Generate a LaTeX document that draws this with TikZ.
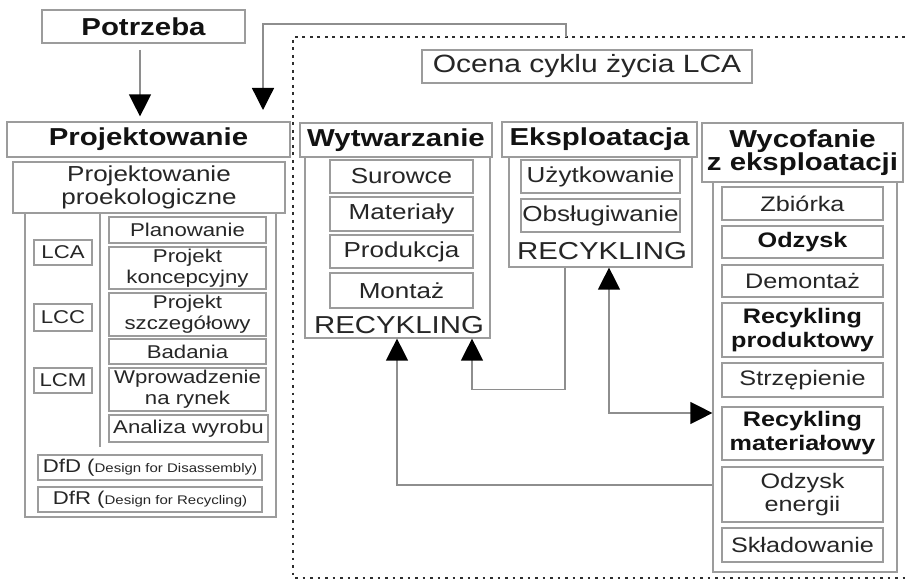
\documentclass[tikz,border=0pt]{standalone}
\usepackage{fontspec}
\setmainfont{Liberation Sans}[FakeStretch=1.2]
\usetikzlibrary{arrows.meta}

\definecolor{edge}{HTML}{9C9C9C}
\definecolor{ink}{HTML}{262626}
\definecolor{inkb}{HTML}{121212}
\definecolor{wire}{HTML}{8E8E8E}
\definecolor{dots}{HTML}{2E2E2E}

\tikzset{
  box/.style={draw=edge, line width=1.2pt, fill=white, inner sep=0pt, align=center, text=ink},
  frame/.style={draw=edge, line width=1.2pt},
  hdr/.style={box, text=inkb, font=\fontsize{24.5}{23.5}\selectfont\bfseries},
  big/.style={box, font=\fontsize{25}{26}\selectfont},
  mid/.style={box, font=\fontsize{21.7}{23}\selectfont},
  itm/.style={box, font=\fontsize{21}{23.5}\selectfont},
  itmb/.style={box, text=inkb, font=\fontsize{21}{24}\selectfont\bfseries},
  lft/.style={box, font=\fontsize{18.5}{21}\selectfont},
  rec/.style={inner sep=0pt, text=ink, font=\fontsize{24.5}{26}\selectfont},
  wire/.style={draw=wire, line width=1.3pt},
  tip/.tip={Triangle[length=22pt, width=22pt, color=black]},
  dotline/.style={draw=dots, line width=2.8pt, dash pattern=on 2.8pt off 4.7pt}
}

% box given by its corners: name, x1, y1, x2, y2, style, text
\newcommand\cbox[7]{%
  \node[#6, minimum width={(#4)-(#2)}, minimum height={(#5)-(#3)}]
    (#1) at ({((#2)+(#4))/2},{((#3)+(#5))/2}) {#7};}

\begin{document}
\begin{tikzpicture}[x=1pt, y=-1pt]
\useasboundingbox (0,0) rectangle (905,580);

% life-cycle assessment frame
\draw[dotline] (905,37) -- (293,37) -- (293,578) -- (905,578);

% top-level boxes
\cbox{pot}{42}{10}{245}{43}{hdr}{Potrzeba}
\cbox{lca}{422}{50}{752}{83}{big}{Ocena cyklu życia LCA}

% design column
\cbox{projOut}{25}{170}{276}{517}{frame}{}
\cbox{proj}{7}{122}{290}{157}{hdr}{Projektowanie}
\cbox{ppro}{13}{162}{285}{213}{mid}{Projektowanie\\proekologiczne}
\coordinate (divTop) at (100,213);
\coordinate (divBot) at (100,447);
\draw[frame] (divTop) -- (divBot);
\cbox{plan}{109}{217}{266}{243}{lft}{Planowanie}
\cbox{kon}{109}{247}{266}{289}{lft}{Projekt\\koncepcyjny}
\cbox{szc}{109}{293}{266}{336}{lft}{Projekt\\szczegółowy}
\cbox{bad}{109}{339}{266}{364}{lft}{Badania}
\cbox{wpr}{109}{368}{266}{411}{lft}{Wprowadzenie\\na rynek}
\cbox{ana}{109}{415}{268}{442}{lft}{Analiza wyrobu}
\cbox{mlca}{34}{240}{92}{265}{lft}{LCA}
\cbox{mlcc}{34}{304}{92}{331}{lft}{LCC}
\cbox{mlcm}{34}{368}{92}{393}{lft}{LCM}
\cbox{dfd}{38}{455}{262}{480}{lft}{DfD ({\fontsize{12.5}{14}\selectfont Design for Disassembly)}}
\cbox{dfr}{38}{487}{262}{512}{lft}{DfR ({\fontsize{12.5}{14}\selectfont Design for Recycling)}}

% manufacturing column
\cbox{wytOut}{305}{140}{490}{338}{frame}{}
\cbox{wyt}{300}{123}{492}{157}{hdr}{Wytwarzanie}
\cbox{sur}{330}{160}{473}{193}{mid}{Surowce}
\cbox{mat}{330}{197}{473}{231}{mid}{Materiały}
\cbox{pro}{330}{235}{473}{268}{mid}{Produkcja}
\cbox{mon}{330}{273}{473}{308}{mid}{Montaż}
\node[rec] (wytRec) at (399,325) {RECYKLING};

% use column
\cbox{eksOut}{509}{140}{692}{267}{frame}{}
\cbox{eks}{502}{122}{697}{157}{hdr}{Eksploatacja}
\cbox{uzy}{521}{160}{680}{193}{mid}{Użytkowanie}
\cbox{obs}{521}{199}{680}{232}{mid}{Obsługiwanie}
\node[rec] (eksRec) at (602,251) {RECYKLING};

% end-of-life column
\cbox{wycOut}{713}{160}{897}{572}{frame}{}
\cbox{wyc}{702}{123}{903}{182}{hdr}{Wycofanie\\z eksploatacji}
\cbox{zbi}{722}{187}{883}{220}{itm}{Zbiórka}
\cbox{odz}{722}{226}{883}{258}{itmb}{Odzysk}
\cbox{dem}{722}{265}{883}{297}{itm}{Demontaż}
\cbox{rpr}{722}{303}{883}{357}{itmb}{Recykling\\produktowy}
\cbox{str}{722}{363}{883}{397}{itm}{Strzępienie}
\cbox{rma}{722}{407}{883}{460}{itmb}{Recykling\\materiałowy}
\cbox{oen}{722}{467}{883}{522}{itm}{Odzysk\\energii}
\cbox{skl}{722}{528}{883}{562}{itm}{Składowanie}

% connectors
\coordinate (potOut) at (140,50);
\draw[wire, -tip] (potOut) -- ([yshift=5pt]potOut |- proj.north);

\coordinate (frameTap) at (566,37);
\coordinate (designIn) at (263,110);
\draw[wire, -tip] (frameTap) -- ++(0,-13) -| (designIn);

\coordinate (k1) at (565,0);
\coordinate (k2) at (472,0);
\draw[wire, -tip] (eksOut.south -| k1) -- ++(0,122) -| (wytOut.south -| k2);

\coordinate (k3) at (609,0);
\coordinate (k4) at (0,413);
\draw[wire, tip-tip] (eksOut.south -| k3) |- (wycOut.west |- k4);

\coordinate (k5) at (0,485);
\coordinate (k6) at (397,0);
\draw[wire, -tip] (wycOut.west |- k5) -| (wytOut.south -| k6);
\end{tikzpicture}
\end{document}
